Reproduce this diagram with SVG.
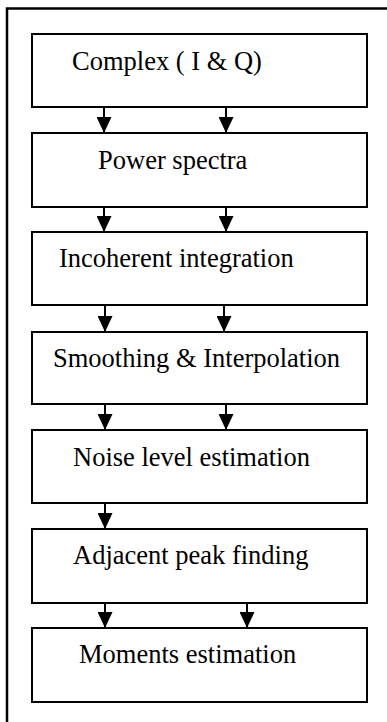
<svg xmlns="http://www.w3.org/2000/svg" width="387" height="722" viewBox="0 0 387 722">
  <style>
    .box { fill: #ffffff; stroke: #000000; stroke-width: 2; }
    .frame { fill: none; stroke: #000000; stroke-width: 2.5; }
    .label { font-family: "Liberation Serif", "Times New Roman", serif; font-size: 26.5px; fill: #000000; }
    .flow { stroke: #000000; stroke-width: 2; fill: none; marker-end: url(#head); }
  </style>
  <defs>
    <marker id="head" viewBox="0 0 16 15" refX="16" refY="7.5" markerWidth="16" markerHeight="15" markerUnits="userSpaceOnUse" orient="auto">
      <path d="M0,0 L16,7.5 L0,15 z" fill="#000000"/>
    </marker>
  </defs>
  <rect width="387" height="722" fill="#ffffff"/>

  <!-- surrounding frame (top and left edges) -->
  <path class="frame" d="M7,722 L7,8.5 L387,8.5"/>

  <g id="node-complex">
    <rect class="box" x="32" y="34" width="335" height="73"/>
    <text class="label" x="72" y="70">Complex ( I &amp; Q)</text>
  </g>
  <g id="node-power">
    <rect class="box" x="32" y="133" width="335" height="74"/>
    <text class="label" x="98" y="169">Power spectra</text>
  </g>
  <g id="node-incoherent">
    <rect class="box" x="32" y="232" width="335" height="73"/>
    <text class="label" x="59" y="267">Incoherent integration</text>
  </g>
  <g id="node-smoothing">
    <rect class="box" x="32" y="332" width="335" height="72"/>
    <text class="label" x="53" y="367">Smoothing &amp; Interpolation</text>
  </g>
  <g id="node-noise">
    <rect class="box" x="32" y="430" width="335" height="73"/>
    <text class="label" x="73" y="466">Noise level estimation</text>
  </g>
  <g id="node-peak">
    <rect class="box" x="32" y="529" width="335" height="74"/>
    <text class="label" x="73" y="564">Adjacent peak finding</text>
  </g>
  <g id="node-moments">
    <rect class="box" x="32" y="628" width="335" height="74"/>
    <text class="label" x="79" y="663">Moments estimation</text>
  </g>

  <g id="connectors">
    <line class="flow" x1="104" y1="107" x2="104" y2="133"/>
    <line class="flow" x1="226" y1="107" x2="226" y2="133"/>
    <line class="flow" x1="104" y1="207" x2="104" y2="232"/>
    <line class="flow" x1="226" y1="207" x2="226" y2="232"/>
    <line class="flow" x1="105" y1="305" x2="105" y2="332"/>
    <line class="flow" x1="224" y1="305" x2="224" y2="332"/>
    <line class="flow" x1="105" y1="404" x2="105" y2="430"/>
    <line class="flow" x1="226" y1="404" x2="226" y2="430"/>
    <line class="flow" x1="105" y1="503" x2="105" y2="529"/>
    <line class="flow" x1="105" y1="603" x2="105" y2="628"/>
    <line class="flow" x1="247" y1="603" x2="247" y2="628"/>
  </g>
</svg>
